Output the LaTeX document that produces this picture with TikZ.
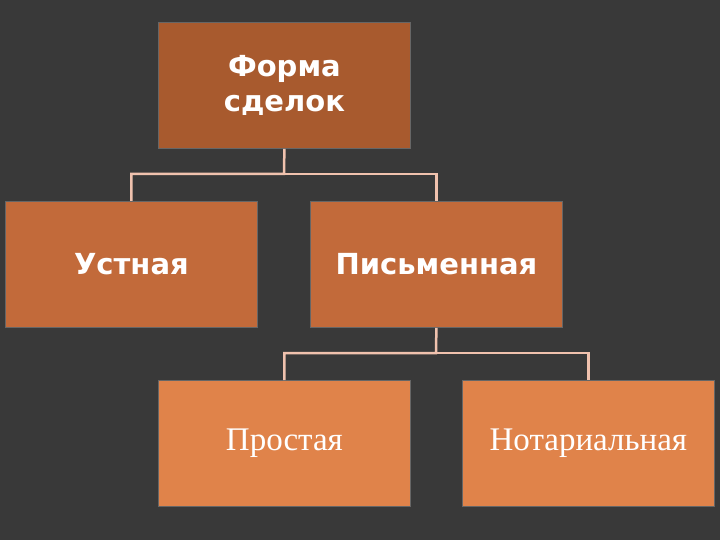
\documentclass[tikz,border=0pt]{standalone}
\usepackage{fontspec}
\setmainfont{Liberation Serif}
\newfontfamily\boldsans{DejaVu Sans}
\begin{document}
\begin{tikzpicture}[x=1pt,y=-1pt,
  bx/.style={draw=black!60,line width=0.8pt,minimum width=252pt,minimum height=126pt,anchor=north west,text=white,inner sep=0pt},
  lvl1/.style={bx,font=\boldsans\bfseries\fontsize{29}{35}\selectfont,align=center},
  lvl2/.style={bx,fill=orange2,font=\fontsize{33}{38}\selectfont},
  conn/.style={draw=pinkline,line width=2.5pt}]
\definecolor{bgc}{HTML}{393939}
\definecolor{top}{HTML}{A85A2E}
\definecolor{mid}{HTML}{C26A3A}
\definecolor{orange2}{HTML}{E0834A}
\definecolor{pinkline}{HTML}{F0C2AE}
\fill[bgc] (0,0) rectangle (720,540);
\useasboundingbox (0,0) rectangle (720,540);
\node[lvl1,fill=top] (forma) at (158,22) {Форма\\сделок};
\node[lvl1,fill=mid] (ust) at (5,201) {Устная};
\node[lvl1,fill=mid] (pis) at (310,201) {Письменная};
\node[lvl2] (pro) at (158,380) {Простая};
\node[lvl2] (not) at (462,380) {Нотариальная};
\coordinate (j1) at (284,174);
\coordinate (j2) at (436,353);
\draw[conn] (forma.south) -- (j1) -| (ust.north);
\draw[conn] (j1) -| (pis.north);
\draw[conn] (pis.south) -- (j2) -| (pro.north);
\draw[conn] (j2) -| (not.north);
\end{tikzpicture}
\end{document}
